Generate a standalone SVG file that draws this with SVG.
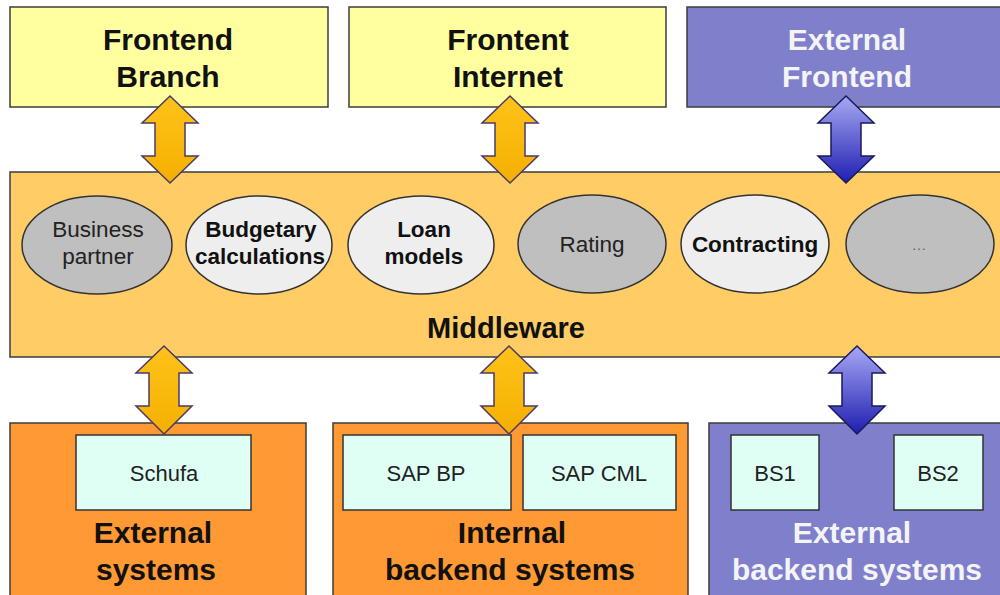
<svg xmlns="http://www.w3.org/2000/svg" width="1000" height="595" viewBox="0 0 1000 595">
<defs>
<linearGradient id="blueGrad" x1="0" y1="0" x2="0" y2="1">
<stop offset="0" stop-color="#a8a8f4"/>
<stop offset="1" stop-color="#1e1eb0"/>
</linearGradient>
<linearGradient id="goldGrad" x1="0" y1="0" x2="0" y2="1">
<stop offset="0" stop-color="#ffc21a"/>
<stop offset="1" stop-color="#f5b000"/>
</linearGradient>
<style>
.box{stroke:#3c3c3c;stroke-width:1.5}
.yellow{fill:#ffffa0}
.purple{fill:#7f7fcb}
.mid{fill:#ffcc66}
.orange{fill:#ff9933}
.inner{fill:#dffff4;stroke:#333;stroke-width:1.5}
.ell{stroke:#333;stroke-width:1.5}
.dark{fill:#bfbfbf}
.light{fill:#eeeeee}
text{font-family:"Liberation Sans",Arial,sans-serif;text-anchor:middle}
.title{font-size:30px;font-weight:bold;fill:#111}
.white{fill:#f4f4f4}
.et{font-size:22.5px;fill:#222}
.eb{font-size:22.5px;font-weight:bold;fill:#111}
.it{font-size:22px;fill:#222}
.gold{fill:url(#goldGrad);stroke:#4a3a6a;stroke-width:1.5;stroke-linejoin:miter}
.blue{fill:url(#blueGrad);stroke:#1a1a5a;stroke-width:1.5;stroke-linejoin:miter}
</style>
</defs>
<rect width="1000" height="595" fill="#ffffff"/>

<g id="frontend-branch">
<rect class="box yellow" x="10" y="7" width="318" height="100"/>
<text class="title" x="168" y="50">Frontend</text>
<text class="title" x="168" y="87">Branch</text>
</g>
<g id="frontend-internet">
<rect class="box yellow" x="349" y="7" width="317" height="100"/>
<text class="title" x="508" y="50">Frontent</text>
<text class="title" x="508" y="87">Internet</text>
</g>
<g id="external-frontend">
<rect class="box purple" x="687" y="7" width="320" height="100"/>
<text class="title white" x="847" y="50">External</text>
<text class="title white" x="847" y="87">Frontend</text>
</g>

<g id="middleware">
<rect class="box mid" x="10" y="172" width="997" height="185"/>
<text class="title" x="506" y="338" style="font-size:29px">Middleware</text>
</g>
<g id="business-partner">
<ellipse class="ell dark" cx="97" cy="245" rx="75" ry="49"/>
<text class="et" x="98" y="237">Business</text>
<text class="et" x="98" y="264">partner</text>
</g>
<g id="budgetary-calculations">
<ellipse class="ell light" cx="259" cy="245" rx="73" ry="49"/>
<text class="eb" x="261" y="237">Budgetary</text>
<text class="eb" x="260" y="264">calculations</text>
</g>
<g id="loan-models">
<ellipse class="ell light" cx="421" cy="245" rx="73" ry="49"/>
<text class="eb" x="424" y="237">Loan</text>
<text class="eb" x="424" y="264">models</text>
</g>
<g id="rating">
<ellipse class="ell dark" cx="592" cy="244" rx="74" ry="49"/>
<text class="et" x="592" y="252">Rating</text>
</g>
<g id="contracting">
<ellipse class="ell light" cx="755" cy="244" rx="74" ry="49"/>
<text class="eb" x="755" y="252">Contracting</text>
</g>
<g id="more">
<ellipse class="ell dark" cx="920" cy="244" rx="74" ry="49"/>
<text x="919" y="250" style="font-size:15px;fill:#666">…</text>
</g>

<g id="external-systems">
<rect class="box orange" x="10" y="423" width="296" height="180"/>
<text class="title" x="153" y="543">External</text>
<text class="title" x="156" y="580">systems</text>
</g>
<g id="schufa">
<rect class="inner" x="76" y="435" width="175" height="75"/>
<text class="it" x="164" y="481">Schufa</text>
</g>
<g id="internal-backend-systems">
<rect class="box orange" x="333" y="423" width="355" height="180"/>
<text class="title" x="512" y="543">Internal</text>
<text class="title" x="510" y="580">backend systems</text>
</g>
<g id="sap-bp">
<rect class="inner" x="343" y="435" width="168" height="75"/>
<text class="it" x="426" y="481">SAP BP</text>
</g>
<g id="sap-cml">
<rect class="inner" x="523" y="435" width="153" height="75"/>
<text class="it" x="599" y="481">SAP CML</text>
</g>
<g id="external-backend-systems">
<rect class="box purple" x="709" y="423" width="298" height="180"/>
<text class="title white" x="852" y="543">External</text>
<text class="title white" x="857" y="580">backend systems</text>
</g>
<g id="bs1">
<rect class="inner" x="731" y="435" width="88" height="75"/>
<text class="it" x="775" y="481">BS1</text>
</g>
<g id="bs2">
<rect class="inner" x="894" y="435" width="89" height="75"/>
<text class="it" x="938" y="481">BS2</text>
</g>

<g id="connectors">
<path class="gold" d="M170,96 L198,123 L185,123 L185,156 L198,156 L170,183 L142,156 L155,156 L155,123 L142,123 Z"/>
<path class="gold" d="M510,96 L538,123 L525,123 L525,156 L538,156 L510,183 L482,156 L495,156 L495,123 L482,123 Z"/>
<path class="blue" d="M846,96 L874,123 L861,123 L861,156 L874,156 L846,183 L818,156 L831,156 L831,123 L818,123 Z"/>
<path class="gold" d="M164,346 L192,373 L179,373 L179,406 L192,406 L164,434 L136,406 L149,406 L149,373 L136,373 Z"/>
<path class="gold" d="M509,346 L537,373 L524,373 L524,406 L537,406 L509,434 L481,406 L494,406 L494,373 L481,373 Z"/>
<path class="blue" d="M857,346 L885,373 L872,373 L872,406 L885,406 L857,434 L829,406 L842,406 L842,373 L829,373 Z"/>
</g>
</svg>
